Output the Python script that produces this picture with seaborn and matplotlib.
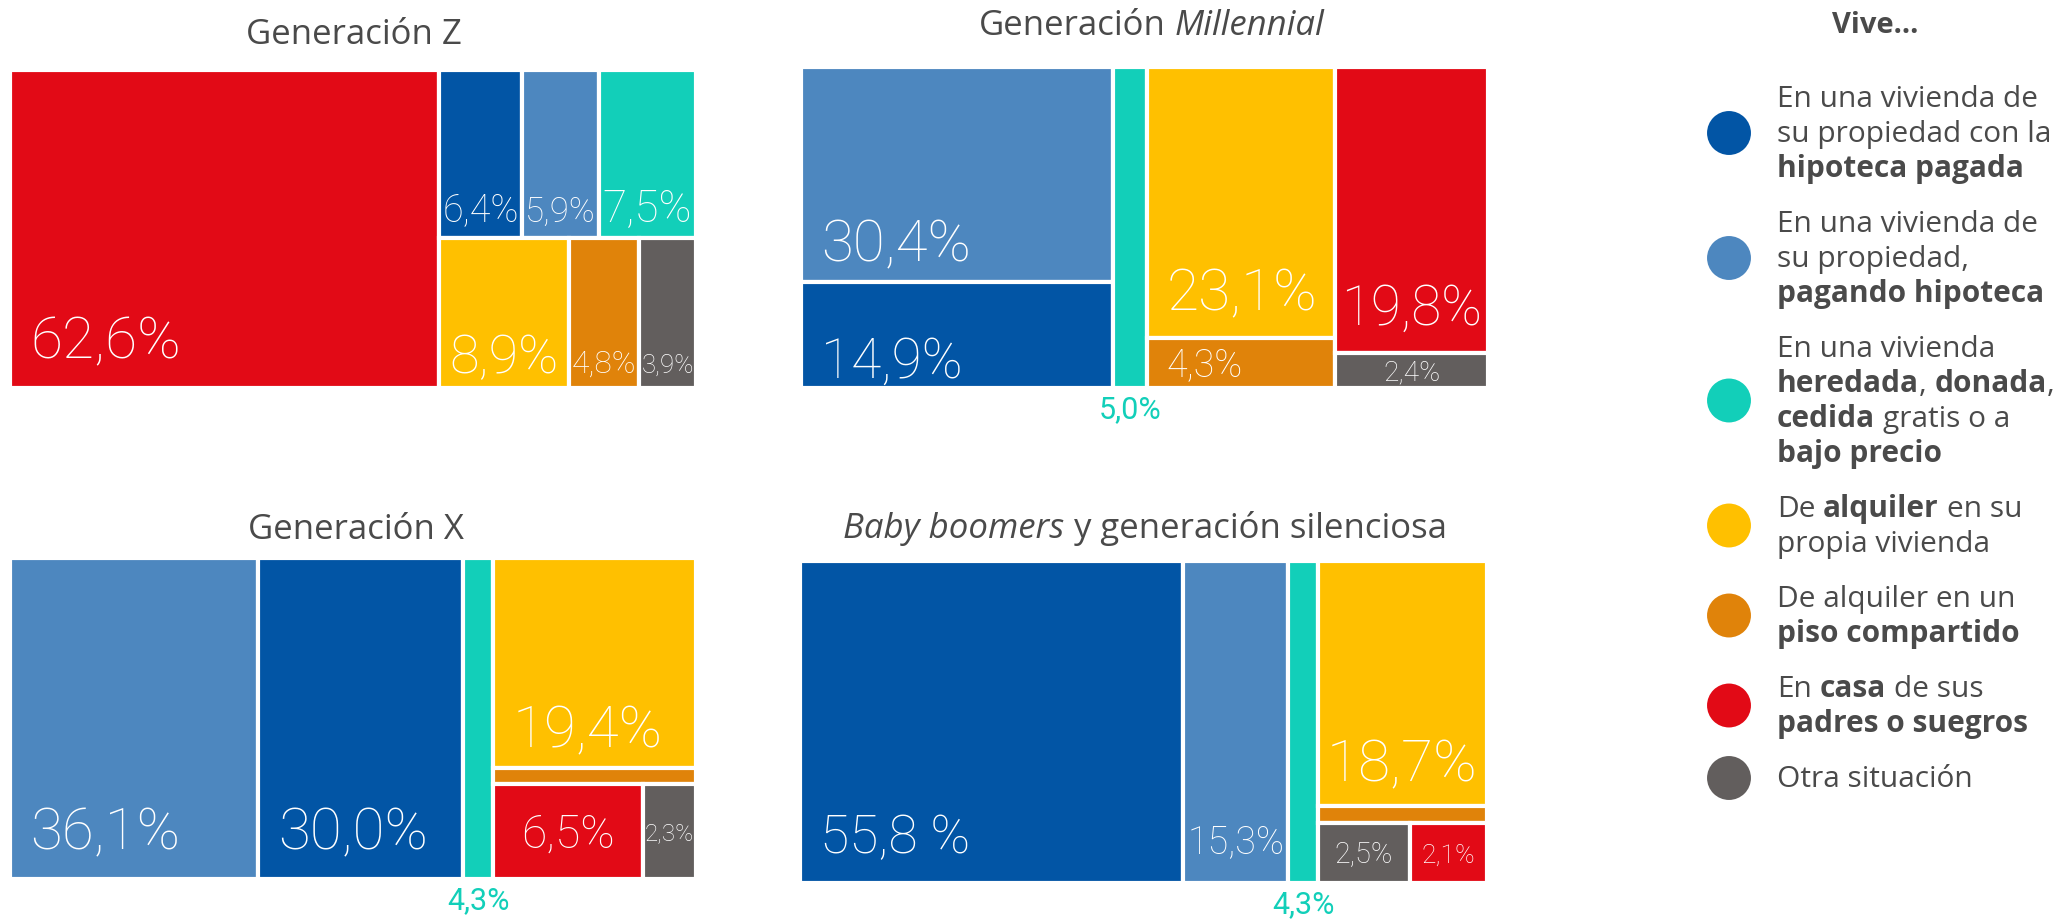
import matplotlib
matplotlib.use("Agg")
import matplotlib.pyplot as plt
import seaborn as sns

# categories (same order everywhere)
categories = ["hipoteca pagada", "pagando hipoteca", "heredada/cedida",
              "alquiler propia vivienda", "piso compartido", "casa padres", "otra"]
colors = ["#0255A5", "#4D87BF", "#12CFB9", "#FFC000", "#E0830A", "#E20A16", "#625E5D"]

# values per generation (%), index = category
gen_z = [6.4, 5.9, 7.5, 8.9, 4.8, 62.6, 3.9]
gen_mil = [14.9, 30.4, 5.0, 23.1, 4.3, 19.8, 2.4]
gen_x = [30.0, 36.1, 4.3, 19.4, 1.4, 6.5, 2.3]
gen_boom = [55.8, 15.3, 4.3, 18.7, 1.3, 2.1, 2.5]

labels_z = ["6,4%", "5,9%", "7,5%", "8,9%", "4,8%", "62,6%", "3,9%"]
labels_mil = ["14,9%", "30,4%", "5,0%", "23,1%", "4,3%", "19,8%", "2,4%"]
labels_x = ["30,0%", "36,1%", "4,3%", "19,4%", None, "6,5%", "2,3%"]
labels_boom = ["55,8 %", "15,3%", "4,3%", "18,7%", None, "2,1%", "2,5%"]

# nesting of the treemaps (columns -> rows -> columns)
layout_z = [5, [[0, 1, 2], [3, 4, 6]]]
layout_mil = [[1, 0], 2, [3, 4], [5, 6]]
layout_x = [1, 0, 2, [3, 4, [5, 6]]]
layout_boom = [0, 1, 2, [3, 4, [6, 5]]]

titles = [
    [("Generación Z", "normal")],
    [("Generación ", "normal"), ("Millennial", "italic")],
    [("Generación X", "normal")],
    [("Baby boomers", "italic"), (" y generación silenciosa", "normal")],
]

legend_lines = [
    [[("En una vivienda de", 0)], [("su propiedad con la", 0)], [("hipoteca pagada", 1)]],
    [[("En una vivienda de", 0)], [("su propiedad,", 0)], [("pagando hipoteca", 1)]],
    [[("En una vivienda", 0)], [("heredada", 1), (",", 0), (" donada", 1), (",", 0)],
     [("cedida", 1), (" gratis o a", 0)], [("bajo precio", 1)]],
    [[("De ", 0), ("alquiler", 1), (" en su", 0)], [("propia vivienda", 0)]],
    [[("De alquiler en un", 0)], [("piso compartido", 1)]],
    [[("En ", 0), ("casa", 1), (" de sus", 0)], [("padres o suegros", 1)]],
    [[("Otra situación", 0)]],
]

sns.set_theme(style="white")
plt.rcParams["font.family"] = ["Open Sans", "DejaVu Sans"]
NUM = dict(family=["Roboto", "DejaVu Sans"], fontweight="light")

W, H = 2070, 919
TXT = "#4A4A4A"
fig = plt.figure(figsize=(W / 100, H / 100), dpi=100)
renderer = fig.canvas.get_renderer()

# overlay axes in pixel coordinates for titles and legend
ov = fig.add_axes([0, 0, 1, 1])
ov.set_xlim(0, W)
ov.set_ylim(H, 0)
ov.axis("off")


def text_width(s, **kw):
    t = ov.text(0, 0, s, **kw)
    w = t.get_window_extent(renderer).width
    t.remove()
    return w


def draw_runs(x, y, runs, size, color, ha="left"):
    space = text_width("a a", fontsize=size) - text_width("aa", fontsize=size)
    parts = []
    for s, kw in runs:
        lead = len(s) - len(s.lstrip(" "))
        core = s.strip(" ")
        trail = len(s) - len(s.rstrip(" ")) if core else 0
        parts.append((lead * space, core, kw, text_width(core, fontsize=size, **kw), trail * space))
    total = sum(a + c + d for a, _, _, c, d in parts)
    if ha == "center":
        x -= total / 2
    for lead, core, kw, cw, trail in parts:
        x += lead
        ov.text(x, y, core, fontsize=size, color=color, va="baseline", ha="left", **kw)
        x += cw + trail


def split(node, vals, x, y, w, h, horiz, out):
    if isinstance(node, int):
        out[node] = (x, y, w, h)
        return
    def tot(n):
        return vals[n] if isinstance(n, int) else sum(tot(c) for c in n)
    T = sum(tot(c) for c in node)
    pos = 0.0
    for c in node:
        f = tot(c) / T
        if horiz:
            split(c, vals, x + pos * w, y, w * f, h, False, out)
        else:
            split(c, vals, x, y + pos * h, w, h * f, True, out)
        pos += f


def treemap(box, vals, layout, labels):
    x0, y0, x1, y1 = box
    bw, bh = x1 - x0, y1 - y0
    ax = fig.add_axes([x0 / W, 1 - y1 / H, bw / W, bh / H])
    ax.set_xlim(0, 1)
    ax.set_ylim(1, 0)
    ax.axis("off")
    rects = {}
    split(layout, vals, 0, 0, 1, 1, True, rects)
    for i, (x, y, w, h) in rects.items():
        ax.bar(x, h, width=w, bottom=y, align="edge", color=colors[i],
               edgecolor="white", linewidth=3)
        lab = labels[i]
        if lab is None:
            continue
        wp, hp = w * bw, h * bh
        if wp < 40:
            # too narrow: value goes under the column, in its colour
            ax.text(x + w / 2, 1 + 22 / bh, lab, ha="center", va="center",
                    fontsize=22, color=colors[i], clip_on=False,
                    family=["Roboto", "DejaVu Sans"])
            continue
        target = min(0.92 * wp, 0.78 * (wp * hp) ** 0.5, 1.7 * hp, 150)
        fs = 10 * target / text_width(lab, fontsize=10, **NUM)
        if hp < 100:
            ty = y + h / 2 + 0.36 * fs * 100 / 72 / bh
        else:
            ty = y + h - min(max(0.1 * hp, 4), 30) / bh
        if wp >= 170:
            ax.text(x + 20 / bw, ty, lab, ha="left", va="baseline", fontsize=fs,
                    color="white", **NUM)
        else:
            ax.text(x + w / 2, ty, lab, ha="center", va="baseline", fontsize=fs,
                    color="white", **NUM)


boxes = [(10, 70, 696, 388), (801, 67, 1488, 388), (10, 558, 696, 879), (800, 561, 1487, 883)]
title_pos = [(354, 44), (1152, 35), (356, 539), (1145, 538)]
data = [(gen_z, layout_z, labels_z), (gen_mil, layout_mil, labels_mil),
        (gen_x, layout_x, labels_x), (gen_boom, layout_boom, labels_boom)]

for box, (vals, lay, labs), tpos, title in zip(boxes, data, title_pos, titles):
    treemap(box, vals, lay, labs)
    runs = [(s, {"fontstyle": st}) for s, st in title]
    draw_runs(tpos[0], tpos[1], runs, 25, TXT, ha="center")

# legend
draw_runs(1875, 33, [("Vive...", {"fontweight": "bold"})], 21, TXT, ha="center")
line_h, gap = 35, 20
y_cur = 133
cy = []
for k, item in enumerate(legend_lines):
    if k > 0:
        y_cur += (len(legend_lines[k - 1]) + len(item)) / 2 * line_h + gap
    cy.append(y_cur)
    n = len(item)
    for j, line in enumerate(item):
        ly = y_cur + (j - (n - 1) / 2) * line_h + 9
        runs = [(s, {"fontweight": "bold"} if b else {}) for s, b in line]
        draw_runs(1777, ly, runs, 21.5, TXT)
ov.scatter([1729] * len(cy), cy, s=1000, c=colors, linewidths=0)

fig.savefig("out.png", dpi=100)
